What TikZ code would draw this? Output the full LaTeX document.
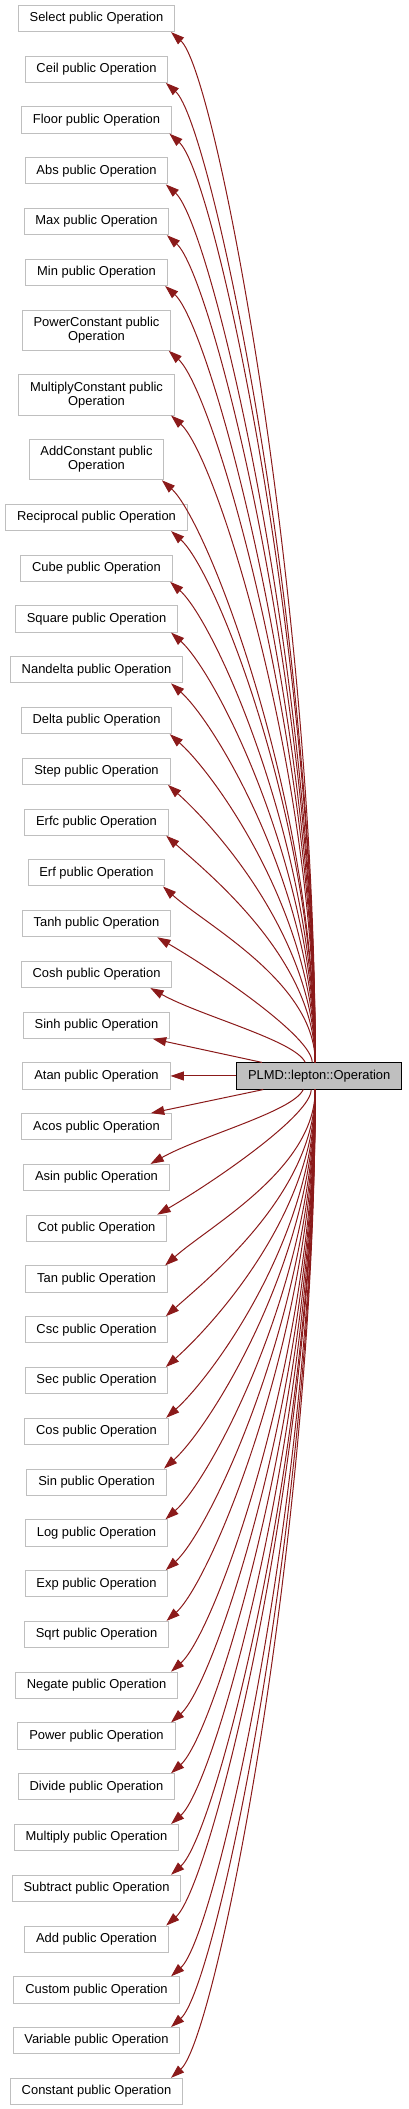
\documentclass[tikz,border=0pt]{standalone}
\usepackage{fontspec}
\setmainfont{Liberation Sans}
\usetikzlibrary{positioning,arrows.meta,calc}
\definecolor{edgered}{HTML}{8B1A1A}
\definecolor{boxgrey}{HTML}{BFBFBF}

\begin{document}
\begin{tikzpicture}[x=0.75pt,y=-0.75pt,node distance=17.68pt,
    class node/.style={draw=boxgrey,line width=0.75pt,inner xsep=8.5pt,inner ysep=5.25pt,text height=7.05pt,text depth=2.1pt,align=center,font=\fontsize{9.7pt}{10.5pt}\selectfont},
    two line/.style={text height=17.55pt},
    base node/.style={class node,draw=black,fill=boxgrey},
    inherit/.style={color=edgered,line width=0.75pt,-{Triangle[length=10pt,width=6.7pt]}}]
    \useasboundingbox (0,0) rectangle (408,2109);

    % derived classes, top to bottom
    \node[class node] (select) at (96.5,18.5) {Select public Operation};
    \node[class node, below=of select] (ceil) {Ceil public Operation};
    \node[class node, below=of ceil] (floor) {Floor public Operation};
    \node[class node, below=of floor] (abs) {Abs public Operation};
    \node[class node, below=of abs] (max) {Max public Operation};
    \node[class node, below=of max] (min) {Min public Operation};
    \node[class node, two line, below=of min] (powerconst) {PowerConstant public\\Operation};
    \node[class node, two line, below=of powerconst] (multiplyconst) {MultiplyConstant public\\Operation};
    \node[class node, two line, below=of multiplyconst] (addconst) {AddConstant public\\Operation};
    \node[class node, below=of addconst] (reciprocal) {Reciprocal public Operation};
    \node[class node, below=of reciprocal] (cube) {Cube public Operation};
    \node[class node, below=of cube] (square) {Square public Operation};
    \node[class node, below=of square] (nandelta) {Nandelta public Operation};
    \node[class node, below=of nandelta] (delta) {Delta public Operation};
    \node[class node, below=of delta] (step) {Step public Operation};
    \node[class node, below=of step] (erfc) {Erfc public Operation};
    \node[class node, below=of erfc] (erf) {Erf public Operation};
    \node[class node, below=of erf] (tanh) {Tanh public Operation};
    \node[class node, below=of tanh] (cosh) {Cosh public Operation};
    \node[class node, below=of cosh] (sinh) {Sinh public Operation};
    \node[class node, below=of sinh] (atan) {Atan public Operation};
    \node[class node, below=of atan] (acos) {Acos public Operation};
    \node[class node, below=of acos] (asin) {Asin public Operation};
    \node[class node, below=of asin] (cot) {Cot public Operation};
    \node[class node, below=of cot] (tan) {Tan public Operation};
    \node[class node, below=of tan] (csc) {Csc public Operation};
    \node[class node, below=of csc] (sec) {Sec public Operation};
    \node[class node, below=of sec] (cos) {Cos public Operation};
    \node[class node, below=of cos] (sin) {Sin public Operation};
    \node[class node, below=of sin] (log) {Log public Operation};
    \node[class node, below=of log] (exp) {Exp public Operation};
    \node[class node, below=of exp] (sqrt) {Sqrt public Operation};
    \node[class node, below=of sqrt] (negate) {Negate public Operation};
    \node[class node, below=of negate] (power) {Power public Operation};
    \node[class node, below=of power] (divide) {Divide public Operation};
    \node[class node, below=of divide] (multiply) {Multiply public Operation};
    \node[class node, below=of multiply] (subtract) {Subtract public Operation};
    \node[class node, below=of subtract] (add) {Add public Operation};
    \node[class node, below=of add] (custom) {Custom public Operation};
    \node[class node, below=of custom] (variable) {Variable public Operation};
    \node[class node, below=of variable] (constant) {Constant public Operation};

    % base class
    \coordinate (opcol) at (319.2,0);
    \node[base node] (operation) at (atan.center -| opcol) {PLMD::lepton::Operation};
    \coordinate (optop) at ([xshift=-3pt]operation.north);
    \coordinate (opbot) at ([xshift=-3pt]operation.south);

    % far edges above
    \foreach \child in {select,ceil,floor,abs,max,min,powerconst,multiplyconst,addconst,reciprocal,cube,square,nandelta,delta,step,erfc,erf}{
        \path let \p1=(\child.south east) in ({min(\x1-1.9pt,128.3pt)},\y1) coordinate (tip);
        \draw[inherit] (optop) .. controls ($(optop)!0.45!(optop |- tip)$) and ([shift={(45,40)}]tip) .. (tip);
    }
    % far edges below
    \foreach \child in {tan,csc,sec,cos,sin,log,exp,sqrt,negate,power,divide,multiply,subtract,add,custom,variable,constant}{
        \path let \p1=(\child.north east) in ({min(\x1-1.9pt,128.3pt)},\y1) coordinate (tip);
        \draw[inherit] (opbot) .. controls ($(opbot)!0.45!(opbot |- tip)$) and ([shift={(45,-40)}]tip) .. (tip);
    }

    % near edges
    \draw[inherit] ([xshift=-5.25pt]operation.north) .. controls +(0,-25) and +(60,35) .. ([xshift=-10.5pt]tanh.south east);
    \draw[inherit] ([xshift=-10.5pt]operation.north) .. controls +(-10,-22) and +(50,28) .. ([xshift=-16.5pt]cosh.south east);
    \draw[inherit] ([xshift=-43pt]operation.north) -- ([xshift=-13pt]sinh.south east);
    \draw[inherit] (operation.west) -- (atan.east);
    \draw[inherit] ([xshift=-42pt]operation.south) -- ([xshift=-15.5pt]acos.north east);
    \draw[inherit] ([xshift=-12pt]operation.south) .. controls +(-10,22) and +(50,-28) .. ([xshift=-14.5pt]asin.north east);
    \draw[inherit] ([xshift=-6pt]operation.south) .. controls +(0,25) and +(60,-35) .. ([xshift=-7.5pt]cot.north east);
\end{tikzpicture}
\end{document}
